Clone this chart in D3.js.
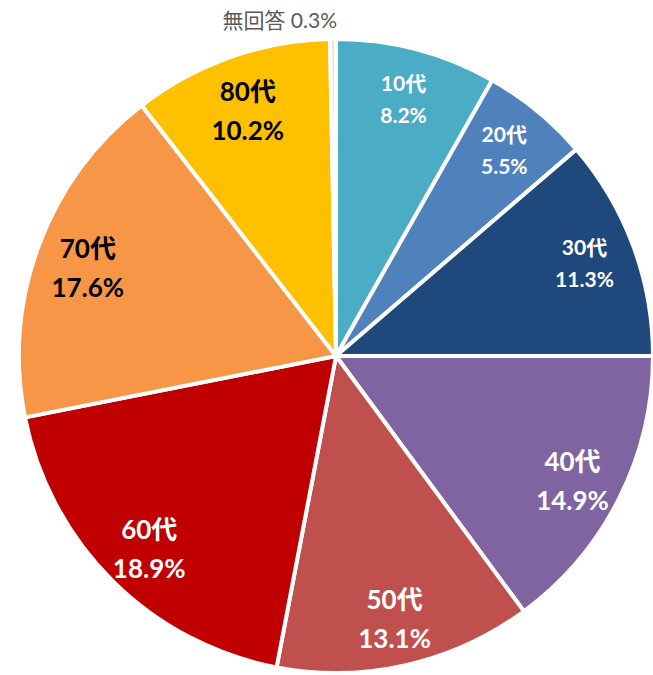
<!DOCTYPE html>
<meta charset="utf-8">
<head>
    <style>
        body {
            margin: 0;
            background: #fff;
            font-family: "Lato", "Noto Sans CJK JP", sans-serif;
        }
        .slice {
            stroke: #fff;
            stroke-width: 4;
        }
        .label {
            font-weight: bold;
        }
        .outside {
            font-size: 21px;
            fill: #595959;
        }
    </style>
</head>
<body>
    <div id="chart"></div>
    <script src="https://cdn.jsdelivr.net/npm/d3@7"></script>
    <script>
        var categories = ["10代", "20代", "30代", "40代", "50代", "60代", "70代", "80代", "無回答"];
        var values = [8.2, 5.5, 11.3, 14.9, 13.1, 18.9, 17.6, 10.2, 0.3];
        var colors = ["#4bacc6", "#4f81bd", "#1f497d", "#8064a2", "#c0504d", "#c00000", "#f79646", "#ffc000", "#f2dcdb"];
        var smallLabels = ["10代", "20代", "30代"];
    </script>
    <script>
        var width = 653,
            height = 675,
            cx = 336,
            cy = 356,
            radius = 317,
            labelRadius = 265;

        var data = categories.map(function (c, i) {
            return { name: c, value: values[i], color: colors[i] };
        });

        var svg = d3.select("#chart")
            .append("svg")
            .attr("width", width)
            .attr("height", height);

        var g = svg.append("g")
            .attr("transform", "translate(" + cx + "," + cy + ")");

        var pie = d3.pie()
            .sort(null)
            .value(function (d) { return d.value; });

        var arc = d3.arc()
            .innerRadius(0)
            .outerRadius(radius);

        var labelArc = d3.arc()
            .innerRadius(labelRadius)
            .outerRadius(labelRadius);

        var arcs = pie(data);

        g.selectAll("path")
            .data(arcs)
            .enter()
            .append("path")
            .attr("class", "slice")
            .attr("fill", function (d) { return d.data.color; })
            .attr("d", arc);

        // labels inside slices (all but the tiny one)
        var inside = arcs.filter(function (d) { return d.data.value >= 1; });

        var lab = g.selectAll("g.lab")
            .data(inside)
            .enter()
            .append("g")
            .attr("class", "lab")
            .attr("transform", function (d) {
                return "translate(" + labelArc.centroid(d) + ")";
            });

        function isSmall(d) { return smallLabels.indexOf(d.data.name) >= 0; }
        function textColor(d) {
            return d3.lab(d.data.color).l > 68 ? "#000" : "#fff";
        }

        lab.append("text")
            .attr("class", "label")
            .attr("text-anchor", "middle")
            .attr("y", function (d) { return isSmall(d) ? -9 : -5; })
            .style("font-size", function (d) { return isSmall(d) ? "21px" : "26px"; })
            .attr("fill", textColor)
            .text(function (d) { return d.data.name; });

        lab.append("text")
            .attr("class", "label")
            .attr("text-anchor", "middle")
            .attr("y", function (d) { return isSmall(d) ? 23 : 34; })
            .style("font-size", function (d) { return isSmall(d) ? "21px" : "26px"; })
            .attr("fill", textColor)
            .text(function (d) { return d.data.value.toFixed(1) + "%"; });

        // outside label for the tiny slice
        var tiny = arcs.filter(function (d) { return d.data.value < 1; });
        g.selectAll("text.outside")
            .data(tiny)
            .enter()
            .append("text")
            .attr("class", "outside")
            .attr("text-anchor", "end")
            .attr("x", 1)
            .attr("y", -radius - 11)
            .text(function (d) { return d.data.name + " " + d.data.value.toFixed(1) + "%"; });
    </script>
</body>
